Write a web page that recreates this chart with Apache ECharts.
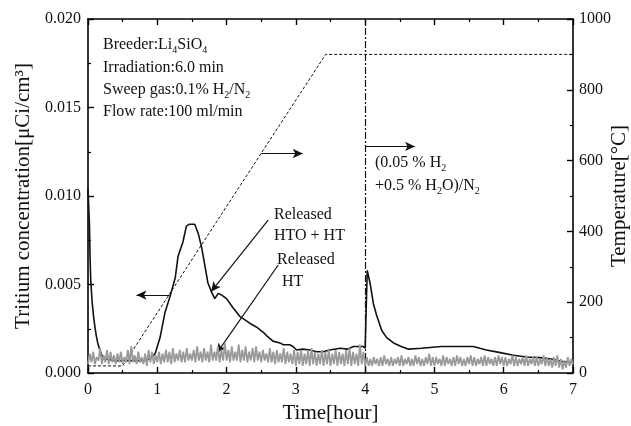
<!DOCTYPE html>
<html>
<head>
<meta charset="utf-8">
<script src="https://cdn.jsdelivr.net/npm/echarts@6/dist/echarts.min.js"></script>
<style>
  html, body { margin: 0; padding: 0; background: #fff; }
  #chart { width: 631px; height: 426px; }
</style>
</head>
<body>
<div id="chart"></div>
<script>
const FONT = '"Liberation Serif", "Times New Roman", serif'

// x axis / tick settings
const timeMin = 0
const timeMax = 7
const concTicks = [0, 0.02, 0.005]
const tempTicks = [0, 1000, 200]

// temperature program [hour, °C]
const tempProgram = [[0, 20], [0.5, 20], [3.43, 900], [7, 900]]

// released HTO + HT [hour, μCi/cm3]
const htoHt = [
  [0, 0.0104], [0.02, 0.0085], [0.03, 0.0065], [0.04, 0.0052], [0.06, 0.0040],
  [0.08, 0.0032], [0.10, 0.0026], [0.12, 0.0021], [0.14, 0.0017], [0.17, 0.0013],
  [0.20, 0.0010], [0.25, 0.0008], [0.40, 0.0007], [0.60, 0.0007], [0.80, 0.0007],
  [0.90, 0.0008], [0.97, 0.0011], [1.04, 0.0020], [1.11, 0.0034], [1.19, 0.0044],
  [1.26, 0.0054], [1.30, 0.0066], [1.37, 0.0074], [1.42, 0.0083], [1.46, 0.0084],
  [1.54, 0.0084], [1.59, 0.0079], [1.64, 0.0071], [1.69, 0.0060], [1.73, 0.0051],
  [1.78, 0.0046], [1.83, 0.0042], [1.88, 0.0045], [1.93, 0.0044], [2.00, 0.0042],
  [2.09, 0.0037], [2.19, 0.0032], [2.34, 0.0028], [2.43, 0.0026], [2.53, 0.0023],
  [2.58, 0.0021], [2.67, 0.0018], [2.77, 0.0017], [2.82, 0.0016], [2.91, 0.0016],
  [2.96, 0.0015], [3.01, 0.0013], [3.10, 0.00135], [3.20, 0.0013], [3.30, 0.0012],
  [3.39, 0.0012], [3.49, 0.0013], [3.64, 0.0014], [3.75, 0.00135], [3.83, 0.0015],
  [3.97, 0.0015], [4.00, 0.0014], [4.03, 0.0058], [4.07, 0.0051], [4.12, 0.0039],
  [4.17, 0.0032], [4.24, 0.0024], [4.31, 0.0020], [4.41, 0.0017], [4.52, 0.0015],
  [4.62, 0.00135], [4.81, 0.0014], [5.10, 0.0015], [5.30, 0.0015], [5.56, 0.0015],
  [5.75, 0.0013], [5.95, 0.00115], [6.14, 0.0010], [6.33, 0.0009], [6.52, 0.00087],
  [6.71, 0.00077], [6.86, 0.00064], [7.00, 0.0006]
]

// released HT, sampled every 0.025 h, in units of 1e-4 μCi/cm3
const htStep = 0.025
const htE4 = [
  5, 11, 6, 12, 5, 9, 7, 14, 5, 10, 6, 13, 5, 12, 6, 10, 5, 11, 6, 12,
  5, 9, 6, 13, 5, 15, 6, 10, 5, 12, 6, 9, 5, 11, 4, 13, 6, 12, 5, 10,
  6, 12, 5, 11, 6, 13, 6, 12, 5, 14, 6, 11, 7, 13, 6, 12, 6, 14, 7, 11,
  7, 13, 6, 15, 7, 12, 6, 14, 7, 12, 6, 16, 7, 12, 7, 15, 6, 13, 7, 17,
  7, 13, 6, 15, 7, 12, 7, 16, 6, 13, 7, 15, 6, 12, 7, 14, 6, 15, 7, 12,
  6, 13, 7, 11, 6, 14, 6, 12, 5, 13, 6, 11, 6, 14, 5, 12, 6, 11, 5, 13,
  4, 12, 5, 13, 4, 11, 5, 13, 4, 14, 5, 12, 4, 11, 5, 13, 4, 12, 5, 13,
  4, 11, 5, 13, 4, 12, 5, 11, 4, 13, 5, 14, 4, 12, 5, 11, 4, 16, 5, 12,
  4, 9, 4, 8, 4, 9, 5, 8, 4, 9, 4, 10, 5, 8, 4, 9, 4, 8, 5, 9,
  4, 10, 4, 8, 5, 9, 4, 8, 4, 10, 5, 9, 4, 8, 4, 9, 5, 11, 4, 9,
  4, 9, 5, 8, 4, 10, 4, 9, 5, 8, 4, 9, 4, 10, 5, 9, 4, 8, 4, 9,
  5, 10, 4, 9, 4, 8, 5, 9, 4, 10, 4, 9, 5, 8, 4, 9, 4, 10, 5, 9,
  4, 9, 4, 8, 5, 10, 4, 9, 4, 8, 5, 9, 4, 10, 4, 8, 5, 9, 4, 9,
  4, 8, 5, 10, 4, 9, 4, 8, 3, 9, 4, 10, 3, 8, 2, 7, 3, 9, 4, 8, 5
]

// annotation arrows [[hour, conc], [hour, conc]], head at the second point
const arrows = [
  [[2.5, 0.0124], [3.1, 0.0124]],
  [[1.18, 0.0044], [0.70, 0.0044]],
  [[2.60, 0.00864], [1.775, 0.00459]],
  [[2.746, 0.0061], [1.857, 0.00111]],
  [[4.0, 0.0128], [4.72, 0.0128]]
]
const gasSwitchTime = 4

const htData = htE4.map((v, i) => [+(i * htStep).toFixed(3), v / 10000])

const tickCommon = {
  axisLine: { show: true, onZero: false, lineStyle: { color: '#000', width: 1.6 } },
  axisTick: { show: true, inside: true, length: 6, lineStyle: { color: '#000', width: 1.4 } },
  minorTick: { show: true, splitNumber: 2, length: 3, lineStyle: { color: '#000', width: 1.2 } },
  splitLine: { show: false }
}

const sub = { fontSize: 10, fontFamily: FONT, lineHeight: 10, verticalAlign: 'bottom', fill: '#111' }
function txt(x, y, text) {
  return {
    type: 'text',
    x: x,
    y: y,
    style: {
      text: text,
      fill: '#111',
      font: '16px ' + FONT,
      verticalAlign: 'middle',
      rich: {
        s: sub,
        n: { fontSize: 16, fontFamily: FONT, lineHeight: 20, verticalAlign: 'middle', fill: '#111' }
      }
    },
    z: 100
  }
}

const chart = echarts.init(document.getElementById('chart'), null, { renderer: 'canvas' })
chart.setOption({
  backgroundColor: '#fff',
  animation: false,
  textStyle: { fontFamily: FONT },
  grid: { left: 88, right: 58, top: 19, bottom: 53, containLabel: false, outerBoundsMode: 'none' },
  xAxis: [
    Object.assign({
      type: 'value',
      min: timeMin,
      max: timeMax,
      interval: 1,
      position: 'bottom',
      name: 'Time[hour]',
      nameLocation: 'middle',
      nameGap: 27,
      nameTextStyle: { fontSize: 21, color: '#111', fontFamily: FONT },
      axisLabel: { fontSize: 16, color: '#111', fontFamily: FONT, margin: 9 }
    }, tickCommon),
    Object.assign({
      type: 'value',
      min: timeMin,
      max: timeMax,
      interval: 1,
      position: 'top',
      axisLabel: { show: false }
    }, tickCommon)
  ],
  yAxis: [
    Object.assign({
      type: 'value',
      min: concTicks[0],
      max: concTicks[1],
      interval: concTicks[2],
      position: 'left',
      name: 'Tritium concentration[μCi/cm³]',
      nameLocation: 'middle',
      nameGap: 52,
      nameTextStyle: { fontSize: 21, color: '#111', fontFamily: FONT },
      axisLabel: { fontSize: 16, color: '#111', fontFamily: FONT, margin: 7, formatter: v => v.toFixed(3) }
    }, tickCommon),
    Object.assign({
      type: 'value',
      min: tempTicks[0],
      max: tempTicks[1],
      interval: tempTicks[2],
      position: 'right',
      name: 'Temperature[°C]',
      nameLocation: 'middle',
      nameRotate: 90,
      nameMoveOverlap: false,
      nameGap: 36,
      nameTextStyle: { fontSize: 21, color: '#111', fontFamily: FONT },
      axisLabel: { fontSize: 16, color: '#111', fontFamily: FONT, margin: 6, formatter: v => String(v) }
    }, tickCommon)
  ],
  series: [
    {
      name: 'Temperature',
      type: 'line',
      xAxisIndex: 0,
      yAxisIndex: 1,
      data: tempProgram,
      symbol: 'none',
      lineStyle: { color: '#111', width: 1, type: [3, 2] },
      markLine: {
        silent: true,
        symbol: 'none',
        label: { show: false },
        lineStyle: { color: '#111', width: 1.2, type: [7, 2, 2, 2] },
        data: [{ xAxis: gasSwitchTime }]
      },
      z: 3
    },
    {
      name: 'Released HTO + HT',
      type: 'line',
      xAxisIndex: 0,
      yAxisIndex: 0,
      data: htoHt,
      symbol: 'none',
      lineStyle: { color: '#111', width: 1.6 },
      markLine: {
        silent: true,
        symbol: ['none', 'arrow'],
        symbolSize: [7, 10],
        label: { show: false },
        lineStyle: { color: '#111', width: 1.2, type: 'solid' },
        data: arrows.map(a => [{ coord: a[0] }, { coord: a[1] }])
      },
      z: 4
    },
    {
      name: 'Released HT',
      type: 'line',
      xAxisIndex: 0,
      yAxisIndex: 0,
      data: htData,
      symbol: 'none',
      lineStyle: { color: '#9a9a9a', width: 1.8 },
      z: 5
    }
  ],
  graphic: [
    txt(103, 45, '{n|Breeder:Li}{s|4}{n|SiO}{s|4}'),
    txt(103, 68, '{n|Irradiation:6.0 min}'),
    txt(103, 90, '{n|Sweep gas:0.1% H}{s|2}{n|/N}{s|2}'),
    txt(103, 112, '{n|Flow rate:100 ml/min}'),
    txt(375, 163, '{n|(0.05 % H}{s|2}'),
    txt(375, 186, '{n|+0.5 % H}{s|2}{n|O)/N}{s|2}'),
    txt(274, 215, '{n|Released}'),
    txt(274, 236, '{n|HTO + HT}'),
    txt(277, 260, '{n|Released}'),
    txt(282, 282, '{n|HT}')
  ]
})
</script>
</body>
</html>
